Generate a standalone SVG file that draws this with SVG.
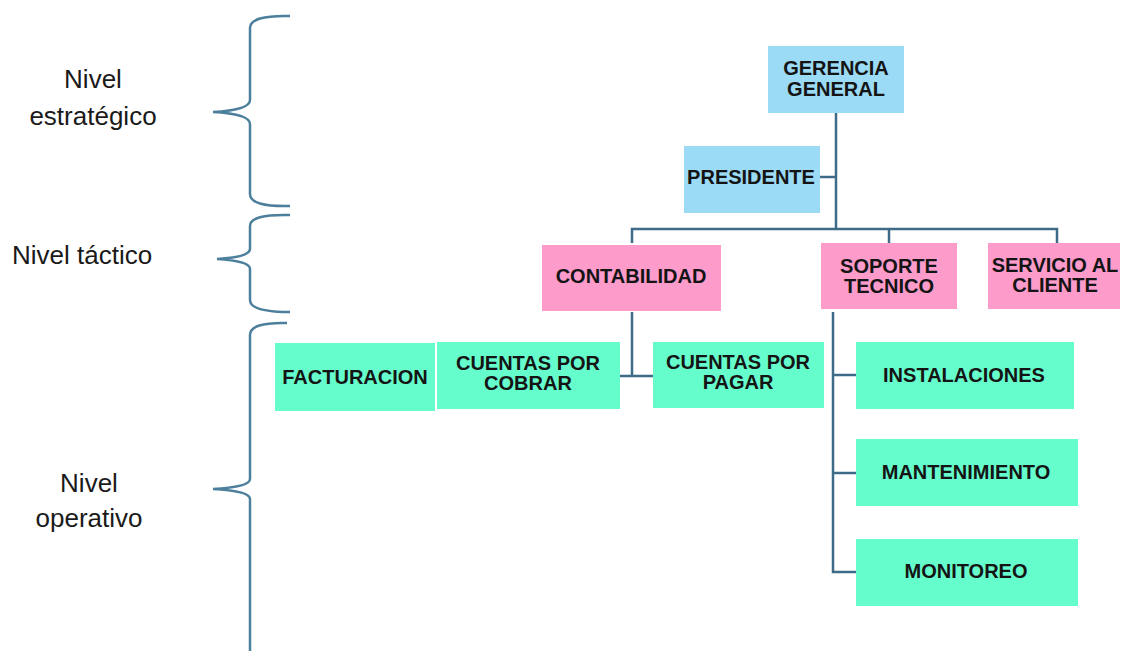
<svg xmlns="http://www.w3.org/2000/svg" width="1123" height="651" viewBox="0 0 1123 651">
<style>
.lbl{font-family:"Liberation Sans",Arial,sans-serif;font-size:26px;fill:#1a1a1a}
.t{font-family:"Liberation Sans",Arial,sans-serif;font-size:20px;font-weight:bold;fill:#141414;text-anchor:middle}
.blue{fill:#9cdbf5}
.pink{fill:#fd9bcb}
.green{fill:#66fdcd}
.conn{stroke:#3e6c88;stroke-width:2.5;fill:none}
.brace{stroke:#4c7f9c;stroke-width:2.5;fill:none}
</style>
<rect width="1123" height="651" fill="#ffffff"/>
<g id="levels">
<path class="brace" d="M290,16 Q250,15 250,28 L250,100 Q250,110 213,112 Q250,114 250,124 L250,194 Q250,207 290,206"/>
<path class="brace" d="M290,215 Q250,214 250,226 L250,249 Q250,257 217,259 Q250,261 250,269 L250,300 Q250,312 290,312"/>
<path class="brace" d="M287,323 Q250,322 250,335 L250,479 Q250,487 213,489 Q250,491 250,499 L250,651"/>
<text class="lbl" x="93" y="88" text-anchor="middle">Nivel</text>
<text class="lbl" x="93" y="125" text-anchor="middle">estratégico</text>
<text class="lbl" x="12" y="264">Nivel táctico</text>
<text class="lbl" x="89" y="492" text-anchor="middle">Nivel</text>
<text class="lbl" x="89" y="527" text-anchor="middle">operativo</text>
</g>
<g id="connectors">
<path class="conn" d="M836,113 V229"/>
<path class="conn" d="M820,177 H836"/>
<path class="conn" d="M632,243 V229 H1057 V243"/>
<path class="conn" d="M889,229 V243"/>
<path class="conn" d="M632,312 V376"/>
<path class="conn" d="M620,376 H653"/>
<path class="conn" d="M833,312 V572 H856"/>
<path class="conn" d="M833,375 H856"/>
<path class="conn" d="M833,473 H856"/>
</g>
<g id="gerencia"><rect class="blue" x="768" y="46" width="136" height="67"/><text class="t" x="836" y="75">GERENCIA</text><text class="t" x="836" y="96">GENERAL</text></g>
<g id="presidente"><rect class="blue" x="684" y="146" width="136" height="67"/><text class="t" x="751" y="184">PRESIDENTE</text></g>
<g id="contabilidad"><rect class="pink" x="542" y="245" width="179" height="66"/><text class="t" x="631" y="283">CONTABILIDAD</text></g>
<g id="soporte"><rect class="pink" x="821" y="243" width="136" height="66"/><text class="t" x="889" y="273">SOPORTE</text><text class="t" x="889" y="293">TECNICO</text></g>
<g id="servicio"><rect class="pink" x="988" y="243" width="132" height="66"/><text class="t" x="1055" y="272">SERVICIO AL</text><text class="t" x="1055" y="292">CLIENTE</text></g>
<g id="facturacion"><rect class="green" x="275" y="343" width="160" height="68"/><text class="t" x="355" y="384">FACTURACION</text></g>
<g id="cobrar"><rect class="green" x="437" y="342" width="183" height="67"/><text class="t" x="528" y="370">CUENTAS POR</text><text class="t" x="528" y="390">COBRAR</text></g>
<g id="pagar"><rect class="green" x="653" y="342" width="171" height="66"/><text class="t" x="738" y="369">CUENTAS POR</text><text class="t" x="738" y="389">PAGAR</text></g>
<g id="instalaciones"><rect class="green" x="856" y="342" width="218" height="67"/><text class="t" x="964" y="382">INSTALACIONES</text></g>
<g id="mantenimiento"><rect class="green" x="856" y="439" width="222" height="67"/><text class="t" x="966" y="479">MANTENIMIENTO</text></g>
<g id="monitoreo"><rect class="green" x="856" y="539" width="222" height="67"/><text class="t" x="966" y="578">MONITOREO</text></g>
</svg>
